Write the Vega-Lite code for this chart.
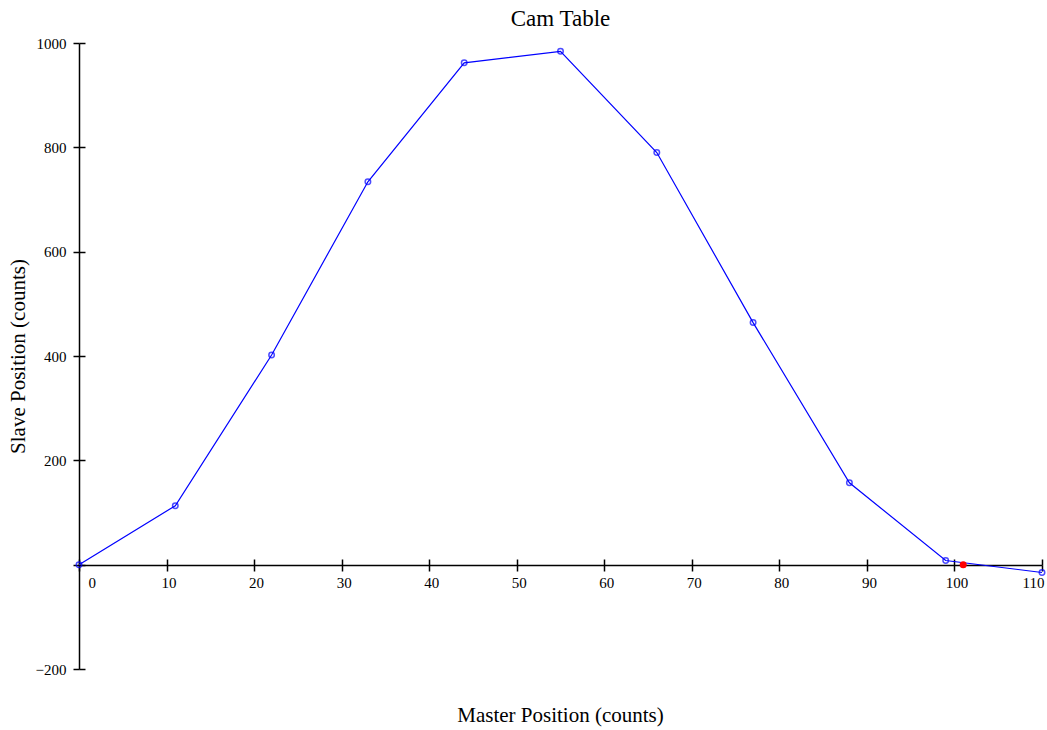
{
  "$schema": "https://vega.github.io/schema/vega-lite/v6.json",
  "autosize": "none",
  "width": 963,
  "height": 626,
  "padding": {"left": 79, "top": 43, "right": 5, "bottom": 61},
  "background": "white",
  "config": {
    "view": {"stroke": null},
    "font": "Liberation Serif",
    "axis": {"grid": false, "domainColor": "black", "tickColor": "black", "labelColor": "black", "titleColor": "black", "labelFont": "Liberation Serif", "titleFont": "Liberation Serif", "labelFontSize": 15, "titleFontSize": 21, "titleFontWeight": "normal", "domainWidth": 1.5, "tickWidth": 1.5}
  },
  "title": {"text": "Cam Table", "font": "Liberation Serif", "fontSize": 23, "fontWeight": "normal", "color": "black", "anchor": "middle", "offset": 5},
  "datasets": {
    "cam": [
      {"master": 0, "slave": 0},
      {"master": 11, "slave": 113},
      {"master": 22, "slave": 402},
      {"master": 33, "slave": 734},
      {"master": 44, "slave": 962},
      {"master": 55, "slave": 984},
      {"master": 66, "slave": 790},
      {"master": 77, "slave": 464},
      {"master": 88, "slave": 157},
      {"master": 99, "slave": 8},
      {"master": 110, "slave": -15}
    ],
    "current": [
      {"master": 101, "slave": 0}
    ]
  },
  "resolve": {"axis": {"x": "independent", "y": "independent"}},
  "layer": [
    {
      "data": {"name": "cam"},
      "mark": {"type": "line", "color": "#0000ff", "strokeWidth": 1.2},
      "encoding": {
        "x": {"field": "master", "type": "quantitative", "scale": {"domain": [0, 110], "nice": false, "zero": false},
          "axis": {"orient": "bottom", "offset": -104, "values": [0,10,20,30,40,50,60,70,80,90,100,110], "tickSize": 6, "labelPadding": 4, "labelBaseline": "top",
            "labelOffset": {"condition": {"test": "datum.value == 0", "value": 9}, "value": 2},
            "title": "Master Position (counts)", "titleX": 481, "titleY": 150, "titleBaseline": "middle", "titleAlign": "center"}},
        "y": {"field": "slave", "type": "quantitative", "scale": {"domain": [-200, 1000], "nice": false, "zero": false},
          "axis": {"orient": "left", "values": [-200, 0, 200, 400, 600, 800, 1000], "tickSize": 6, "labelPadding": 7,
            "labelExpr": "datum.value == 0 ? '' : datum.label", "format": "d",
            "title": "Slave Position (counts)", "titleX": -61, "titleY": 313, "titleAngle": -90, "titleBaseline": "middle", "titleAlign": "center"}}
      }
    },
    {
      "data": {"name": "cam"},
      "mark": {"type": "point", "shape": "circle", "size": 30, "filled": false, "color": "#0000ff", "strokeWidth": 1.5},
      "encoding": {
        "x": {"field": "master", "type": "quantitative", "axis": null},
        "y": {"field": "slave", "type": "quantitative", "axis": null}
      }
    },
    {
      "data": {"name": "current"},
      "mark": {"type": "point", "shape": "circle", "size": 50, "filled": true, "color": "#ff0000", "opacity": 1},
      "encoding": {
        "x": {"field": "master", "type": "quantitative",
          "axis": {"orient": "bottom", "offset": -104, "values": [0,10,20,30,40,50,60,70,80,90,100,110], "tickSize": -6, "labels": false, "domain": false, "title": null}},
        "y": {"field": "slave", "type": "quantitative",
          "axis": {"orient": "left", "values": [-200, 0, 200, 400, 600, 800, 1000], "tickSize": -6, "labels": false, "domain": false, "title": null}}
      }
    }
  ]
}
